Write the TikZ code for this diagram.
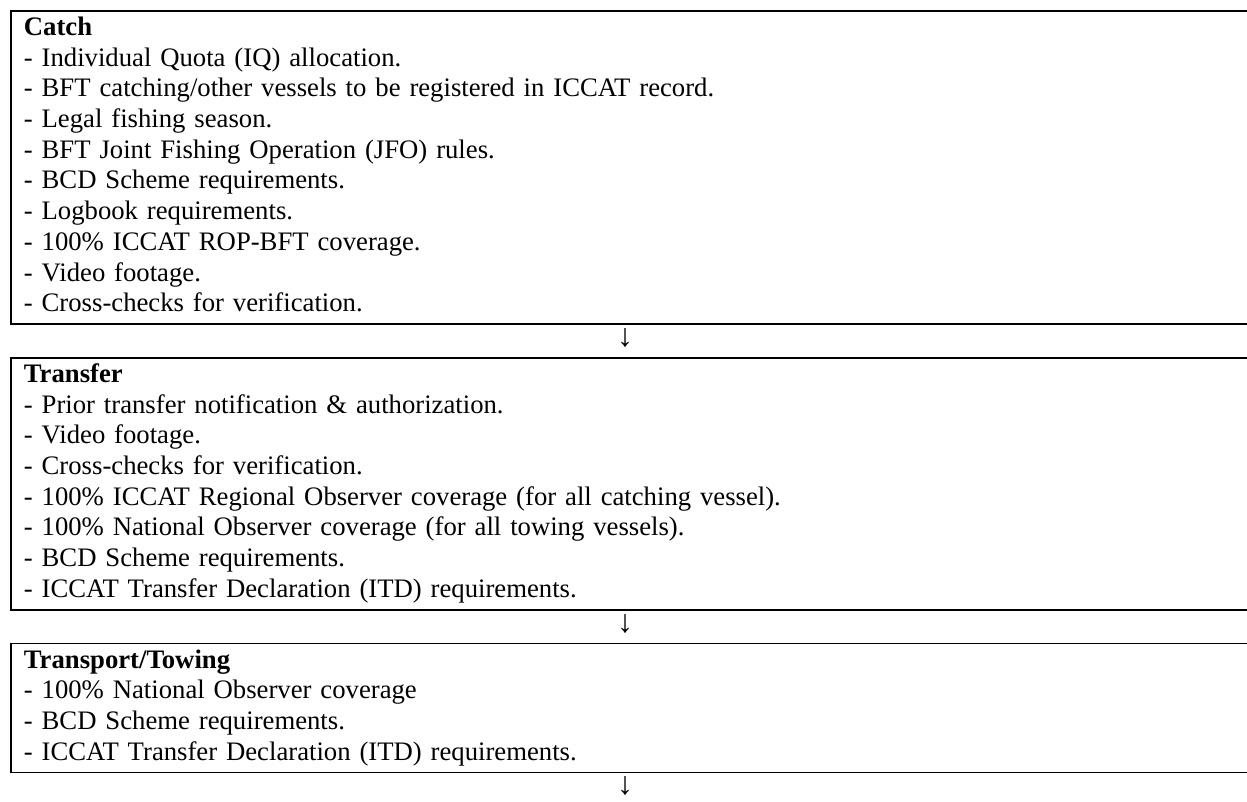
\documentclass[tikz,border=0pt]{standalone}
\usepackage{fontspec}
\setmainfont{Liberation Serif}
\usepackage{tikz}
\usetikzlibrary{positioning}
\tikzstyle{stage} = [rectangle, draw=black, line width=1.8pt, anchor=north west, text width=1232pt, inner xsep=13pt, inner ysep=3.1pt, align=left, font=\fontsize{26.7pt}{30.7pt}\selectfont]
\tikzstyle{down} = [inner sep=0pt, font=\fontsize{32pt}{36pt}\selectfont]

\begin{document}
\begin{tikzpicture}[x=1pt,y=-1pt]
\useasboundingbox (0,0) rectangle (1247,801);
\clip (0,0) rectangle (1247,801);
\coordinate (mid) at (625,0);

\node (catch) [stage] at (10,10) {\strut\textbf{Catch}\\
- Individual Quota (IQ) allocation.\\
- BFT catching/other vessels to be registered in ICCAT record.\\
- Legal fishing season.\\
- BFT Joint Fishing Operation (JFO) rules.\\
- BCD Scheme requirements.\\
- Logbook requirements.\\
- 100\% ICCAT ROP-BFT coverage.\\
- Video footage.\\
- Cross-checks for verification.\strut};
\node (arr1) [down] at ([yshift=-13pt]catch.south -| mid) {↓};

\node (transfer) [stage, below=32pt of catch.south west, anchor=north west] {\strut\textbf{Transfer}\\
- Prior transfer notification \& authorization.\\
- Video footage.\\
- Cross-checks for verification.\\
- 100\% ICCAT Regional Observer coverage (for all catching vessel).\\
- 100\% National Observer coverage (for all towing vessels).\\
- BCD Scheme requirements.\\
- ICCAT Transfer Declaration (ITD) requirements.\strut};
\node (arr2) [down] at ([yshift=-13pt]transfer.south -| mid) {↓};

\node (towing) [stage, below=32pt of transfer.south west, anchor=north west] {\strut\textbf{Transport/Towing}\\
- 100\% National Observer coverage\\
- BCD Scheme requirements.\\
- ICCAT Transfer Declaration (ITD) requirements.\strut};
\node (arr3) [down] at ([yshift=-13pt]towing.south -| mid) {↓};
\end{tikzpicture}
\end{document}
